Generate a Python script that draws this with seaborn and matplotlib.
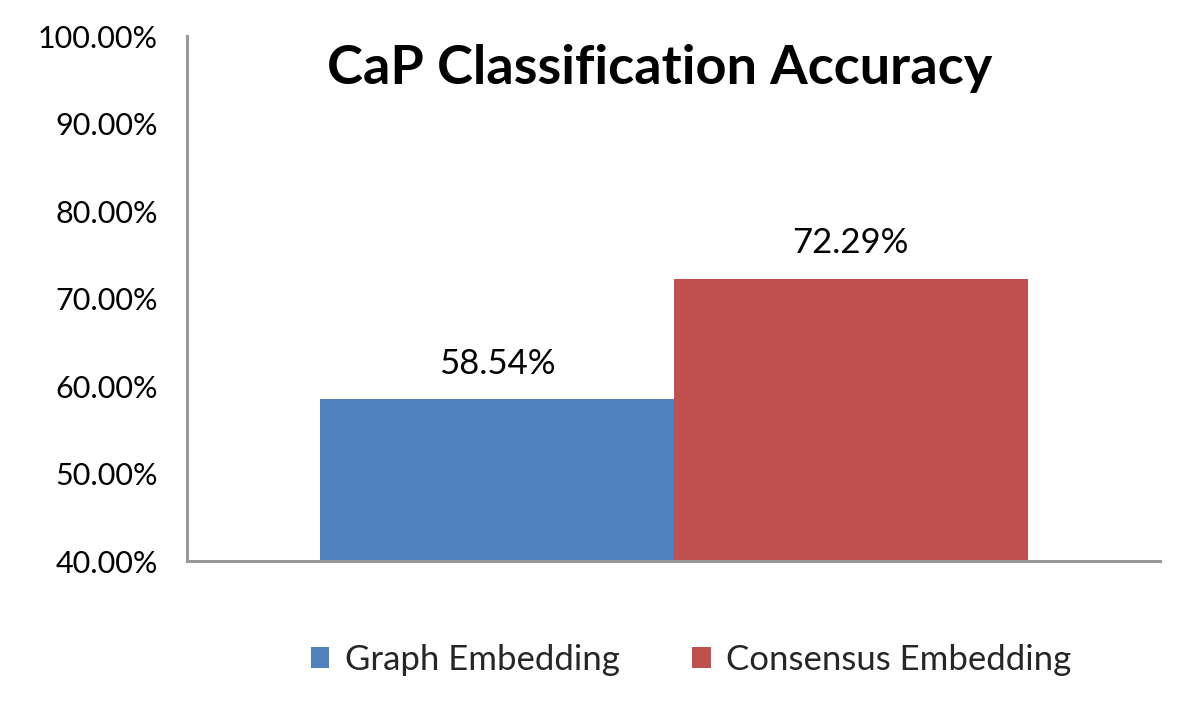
import matplotlib
matplotlib.use("Agg")
import matplotlib.pyplot as plt
import seaborn as sns
import pandas as pd
from matplotlib.ticker import FuncFormatter
from matplotlib.patches import Patch

categories = ["CaP"]
methods = ["Graph Embedding", "Consensus Embedding"]
accuracy = [58.54, 72.29]
labels = ["58.54%", "72.29%"]
colors = ["#4F81BD", "#C0504D"]

sns.set_theme(style="white")
plt.rcParams['font.family'] = ['Lato', 'DejaVu Sans']

df = pd.DataFrame({"cat": categories * len(methods), "method": methods, "acc": accuracy})

fig = plt.figure(figsize=(12, 7.25), dpi=100)
ax = fig.add_axes([0.156, 0.226, 0.811, 0.724])
sns.barplot(data=df, x="cat", y="acc", hue="method", palette=colors, width=0.727,
            saturation=1, ax=ax, legend=False, edgecolor="none")
ax.set_xlim(-0.5, 0.5)
ax.set_ylim(40, 100)
ax.set_yticks(range(40, 101, 10))
ax.yaxis.set_major_formatter(FuncFormatter(lambda v, p: f"{v:.2f}%"))
ax.tick_params(axis='y', labelsize=22, length=0, pad=21, labelcolor='black')
ax.set_xticks([])
ax.set_xlabel("")
ax.set_ylabel("")
for s in ["top", "right"]:
    ax.spines[s].set_visible(False)
for s in ["left", "bottom"]:
    ax.spines[s].set_color("#999999")
    ax.spines[s].set_linewidth(2.2)

for cont, lab in zip(ax.containers, labels):
    ax.bar_label(cont, labels=[lab], padding=14, fontsize=25, color='black')

fig.text(0.55, 0.905, "CaP Classification Accuracy", ha="center", va="center",
         fontsize=39, fontweight="bold", color="black")

handles = [Patch(facecolor=c, edgecolor='none') for c in colors]
fig.legend(handles, methods, loc="center", bbox_to_anchor=(0.576, 0.09), ncol=2,
           frameon=False, fontsize=25, handlelength=0.52, handleheight=0.52,
           handletextpad=0.45, columnspacing=2.1)

fig.savefig("out.png", dpi=100)
